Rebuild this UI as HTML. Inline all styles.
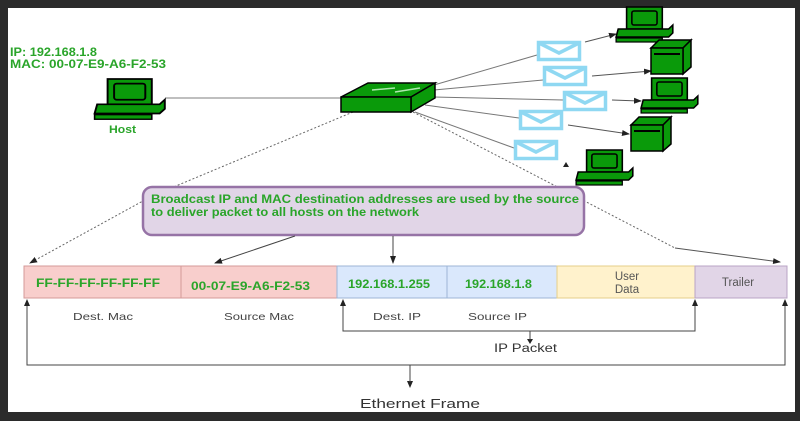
<!DOCTYPE html>
<html><head><meta charset="utf-8"><style>
html,body{margin:0;padding:0;background:#2b2b2b;}
svg{display:block;}
text{font-family:"Liberation Sans",Arial,sans-serif;}
</style></head><body>
<svg width="800" height="421" viewBox="0 0 800 421" xmlns="http://www.w3.org/2000/svg">
<defs>
<marker id="ah" markerWidth="8" markerHeight="8" refX="7" refY="4" orient="auto" markerUnits="userSpaceOnUse"><path d="M0,1 L8,4 L0,7 Z" fill="#222"/></marker>
<g id="pc">
 <rect x="12" y="0" width="34" height="22" fill="#0a9a0a" stroke="#000" stroke-width="1.5"/>
 <rect x="17" y="4" width="24" height="14" rx="2" fill="#0a9a0a" stroke="#000" stroke-width="1.5"/>
 <polygon points="4,22 52,22 56,18 56,26 52,30 2,30" fill="#0a9a0a" stroke="#000" stroke-width="1.5"/>
 <rect x="2" y="31" width="44" height="4" fill="#0a9a0a" stroke="#000" stroke-width="1.2"/>
</g>
<g id="srv">
 <polygon points="0,8 8,0 40,0 32,8" fill="#0a9a0a" stroke="#000" stroke-width="1.5"/>
 <polygon points="32,8 40,0 40,27 32,34" fill="#0a9a0a" stroke="#000" stroke-width="1.5"/>
 <rect x="0" y="8" width="32" height="26" fill="#0a9a0a" stroke="#000" stroke-width="1.5"/>
 <line x1="3" y1="14" x2="29" y2="14" stroke="#000" stroke-width="2"/>
</g>
<g id="env">
 <rect x="1.5" y="1.5" width="41" height="17" fill="#fff" stroke="#8fd8f2" stroke-width="3.5"/>
 <polyline points="2,2 22,12 42,2" fill="none" stroke="#8fd8f2" stroke-width="3.5"/>
</g>
</defs>
<rect x="8" y="8" width="787" height="404" fill="#fff"/>

<line x1="165" y1="98" x2="341" y2="98" stroke="#999" stroke-width="1.2"/>
<g stroke="#777" stroke-width="1">
<line x1="434" y1="85" x2="537" y2="55"/>
<line x1="434" y1="90" x2="543" y2="80"/>
<line x1="434" y1="97" x2="563" y2="100"/>
<line x1="425" y1="105" x2="519" y2="118"/>
<line x1="415" y1="112" x2="514" y2="148"/>
</g>
<g stroke="#555" stroke-width="1" marker-end="url(#ah)">
<line x1="585" y1="42" x2="616" y2="34"/>
<line x1="592" y1="76" x2="651" y2="71"/>
<line x1="612" y1="100" x2="641" y2="101"/>
<line x1="568" y1="125" x2="629" y2="134"/>
</g>
<polygon points="563,167 569,167 566,162" fill="#222"/>

<line x1="353" y1="112" x2="152" y2="196" stroke="#666" stroke-width="1" stroke-dasharray="2,2"/>
<line x1="152" y1="196" x2="30" y2="263" stroke="#666" stroke-width="1" stroke-dasharray="2,2" marker-end="url(#ah)"/>
<line x1="413" y1="112" x2="675" y2="248" stroke="#666" stroke-width="1" stroke-dasharray="2,2"/>
<line x1="675" y1="248" x2="780" y2="262" stroke="#555" stroke-width="1" marker-end="url(#ah)"/>

<polygon points="341,97 368,83 435,83 411,97" fill="#0a9a0a" stroke="#000" stroke-width="1.5"/>
<polygon points="411,97 435,83 435,98 411,112" fill="#0a9a0a" stroke="#000" stroke-width="1.5"/>
<rect x="341" y="97" width="70" height="15" fill="#0a9a0a" stroke="#000" stroke-width="1.5"/>
<line x1="372" y1="90" x2="395" y2="88" stroke="#aee8ae" stroke-width="1.5"/>
<line x1="395" y1="92" x2="420" y2="88" stroke="#aee8ae" stroke-width="1.5"/>

<use href="#pc" transform="translate(92,79) scale(1.3,1.15)"/>
<text x="109" y="133" font-size="11" font-weight="bold" fill="#2aa52a" textLength="27" lengthAdjust="spacingAndGlyphs">Host</text>
<text x="10" y="56" font-size="11.5" font-weight="bold" fill="#2aa52a" textLength="87" lengthAdjust="spacingAndGlyphs">IP: 192.168.1.8</text>
<text x="10" y="68" font-size="11.5" font-weight="bold" fill="#2aa52a" textLength="156" lengthAdjust="spacingAndGlyphs">MAC: 00-07-E9-A6-F2-53</text>

<use href="#pc" transform="translate(614,7) scale(1.05,1)"/>
<use href="#srv" transform="translate(651,40)"/>
<use href="#pc" transform="translate(639,78) scale(1.05,1)"/>
<use href="#srv" transform="translate(631,117)"/>
<use href="#pc" transform="translate(574,150) scale(1.05,1)"/>

<use href="#env" x="537" y="41"/>
<use href="#env" x="543" y="66"/>
<use href="#env" x="563" y="91"/>
<use href="#env" x="519" y="110"/>
<use href="#env" x="514" y="140"/>

<rect x="143" y="187" width="441" height="48" rx="9" fill="#e1d5e7" stroke="#9673a6" stroke-width="2.5"/>
<text x="151" y="203" font-size="12" font-weight="bold" fill="#2aa52a" textLength="428" lengthAdjust="spacingAndGlyphs">Broadcast IP and MAC destination addresses are used by the source</text>
<text x="151" y="216" font-size="12" font-weight="bold" fill="#2aa52a" textLength="268" lengthAdjust="spacingAndGlyphs">to deliver packet to all hosts on the network</text>
<line x1="295" y1="236" x2="215" y2="263" stroke="#444" stroke-width="1" marker-end="url(#ah)"/>
<line x1="393" y1="236" x2="393" y2="263" stroke="#444" stroke-width="1" marker-end="url(#ah)"/>

<rect x="24" y="266" width="157" height="32" fill="#f8cecc" stroke="#d49a98" stroke-width="1"/>
<rect x="181" y="266" width="156" height="32" fill="#f8cecc" stroke="#d49a98" stroke-width="1"/>
<rect x="337" y="266" width="110" height="32" fill="#dae8fc" stroke="#9db5d6" stroke-width="1"/>
<rect x="447" y="266" width="110" height="32" fill="#dae8fc" stroke="#9db5d6" stroke-width="1"/>
<rect x="557" y="266" width="138" height="32" fill="#fff2cc" stroke="#e6cf8a" stroke-width="1"/>
<rect x="695" y="266" width="92" height="32" fill="#e1d5e7" stroke="#b9a4c6" stroke-width="1"/>
<g font-size="12" font-weight="bold" fill="#2aa52a" lengthAdjust="spacingAndGlyphs">
<text x="36" y="287" textLength="124" lengthAdjust="spacingAndGlyphs">FF-FF-FF-FF-FF-FF</text>
<text x="191" y="290" textLength="119" lengthAdjust="spacingAndGlyphs">00-07-E9-A6-F2-53</text>
<text x="348" y="288" textLength="82" lengthAdjust="spacingAndGlyphs">192.168.1.255</text>
<text x="465" y="288" textLength="67" lengthAdjust="spacingAndGlyphs">192.168.1.8</text>
</g>
<g font-size="11.5" fill="#555" text-anchor="middle">
<text x="627" y="280">User</text>
<text x="627" y="293">Data</text>
<text x="738" y="286">Trailer</text>
</g>
<g font-size="10.5" fill="#444">
<text x="73" y="320" textLength="60" lengthAdjust="spacingAndGlyphs">Dest. Mac</text>
<text x="224" y="320" textLength="70" lengthAdjust="spacingAndGlyphs">Source Mac</text>
<text x="373" y="320" textLength="48" lengthAdjust="spacingAndGlyphs">Dest. IP</text>
<text x="468" y="320" textLength="59" lengthAdjust="spacingAndGlyphs">Source IP</text>
<text x="494" y="352" font-size="11.5" fill="#333" textLength="63" lengthAdjust="spacingAndGlyphs">IP Packet</text>
<text x="360" y="408" font-size="13" fill="#333" textLength="120" lengthAdjust="spacingAndGlyphs">Ethernet Frame</text>
</g>

<g stroke="#444" stroke-width="1" fill="none">
<polyline points="343,300 343,331 695,331 695,300"/>
<polyline points="27,300 27,365 785,365 785,300"/>
</g>
<g fill="#222">
<polygon points="340,306 346,306 343,299"/>
<polygon points="692,306 698,306 695,299"/>
<polygon points="24,306 30,306 27,299"/>
<polygon points="782,306 788,306 785,299"/>
<polygon points="527,339 533,339 530,344"/>
<polygon points="407,381 413,381 410,388"/>
</g>
<line x1="530" y1="331" x2="530" y2="340" stroke="#444"/>
<line x1="410" y1="365" x2="410" y2="382" stroke="#444"/>
</svg>
</body></html>
